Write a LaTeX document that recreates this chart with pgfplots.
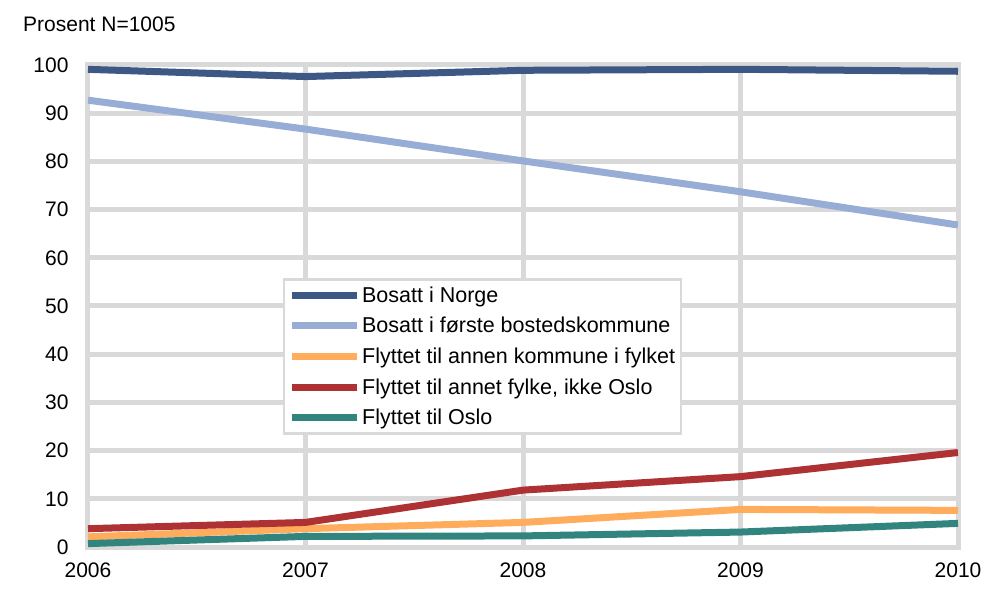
\documentclass[border=0pt]{standalone}
\usepackage{pgfplots}
\pgfplotsset{compat=1.18}
\usepackage{fontspec}
\setmainfont{Liberation Sans}
\definecolor{cNorge}{HTML}{3E5886}
\definecolor{cForste}{HTML}{98ADD5}
\definecolor{cAnnen}{HTML}{FFAC5C}
\definecolor{cFylke}{HTML}{AE3233}
\definecolor{cOslo}{HTML}{32847F}
\definecolor{cGrid}{HTML}{D9D9D9}
\begin{document}
\begin{tikzpicture}
\path[use as bounding box] (-88bp,-52bp) rectangle (895bp,547bp);
\begin{axis}[
  at={(0,0)}, anchor=origin,
  scale only axis, width=870bp, height=482bp,
  xmin=2006, xmax=2010, ymin=0, ymax=100,
  xtick={2006,2007,2008,2009,2010},
  ytick={0,10,...,100},
  major tick length=0pt,
  xmajorgrids, ymajorgrids,
  grid style={cGrid, line width=5bp},
  axis line style={cGrid, line width=5bp},
  /pgf/number format/1000 sep={},
  /pgf/number format/assume math mode=true,
  tick label style={font=\fontsize{21bp}{25bp}\selectfont, black},
  yticklabel style={xshift=-16bp},
  xticklabel style={yshift=-12bp},
  legend style={at={(0.224,0.558)}, anchor=north west, draw=cGrid, line width=2.5bp,
    inner xsep=4bp, inner ysep=5.5bp, row sep=9.5bp,
    nodes={font=\fontsize{21.5bp}{25bp}\selectfont, inner ysep=2bp, inner xsep=2bp},
    cells={anchor=west}},
  legend cell align=left,
  legend image code/.code={\path (0bp,0bp) -- (65bp,0bp);\draw[#1, line width=6.5bp, line cap=round] (10bp,0bp) -- (62bp,0bp);},
  every axis plot/.append style={line width=7bp, mark=none},
]
\addplot[cNorge] coordinates {(2006,99.1) (2007,97.6) (2008,98.9) (2009,99.1) (2010,98.7)};
\addlegendentry{Bosatt i Norge}
\addplot[cForste] coordinates {(2006,92.7) (2007,86.7) (2008,80.1) (2009,73.7) (2010,66.8)};
\addlegendentry{Bosatt i første bostedskommune}
\addplot[cAnnen] coordinates {(2006,2.1) (2007,3.8) (2008,5.1) (2009,7.8) (2010,7.6)};
\addlegendentry{Flyttet til annen kommune i fylket}
\addplot[cFylke] coordinates {(2006,3.8) (2007,5.1) (2008,11.8) (2009,14.6) (2010,19.6)};
\addlegendentry{Flyttet til annet fylke, ikke Oslo}
\addplot[cOslo] coordinates {(2006,0.7) (2007,2.2) (2008,2.3) (2009,3.1) (2010,4.9)};
\addlegendentry{Flyttet til Oslo\hspace{6bp}}
\end{axis}
\node[anchor=base west, inner sep=0pt, font=\fontsize{21bp}{25bp}\selectfont] at (-65bp,515bp) {Prosent N=1005};
\end{tikzpicture}
\end{document}
